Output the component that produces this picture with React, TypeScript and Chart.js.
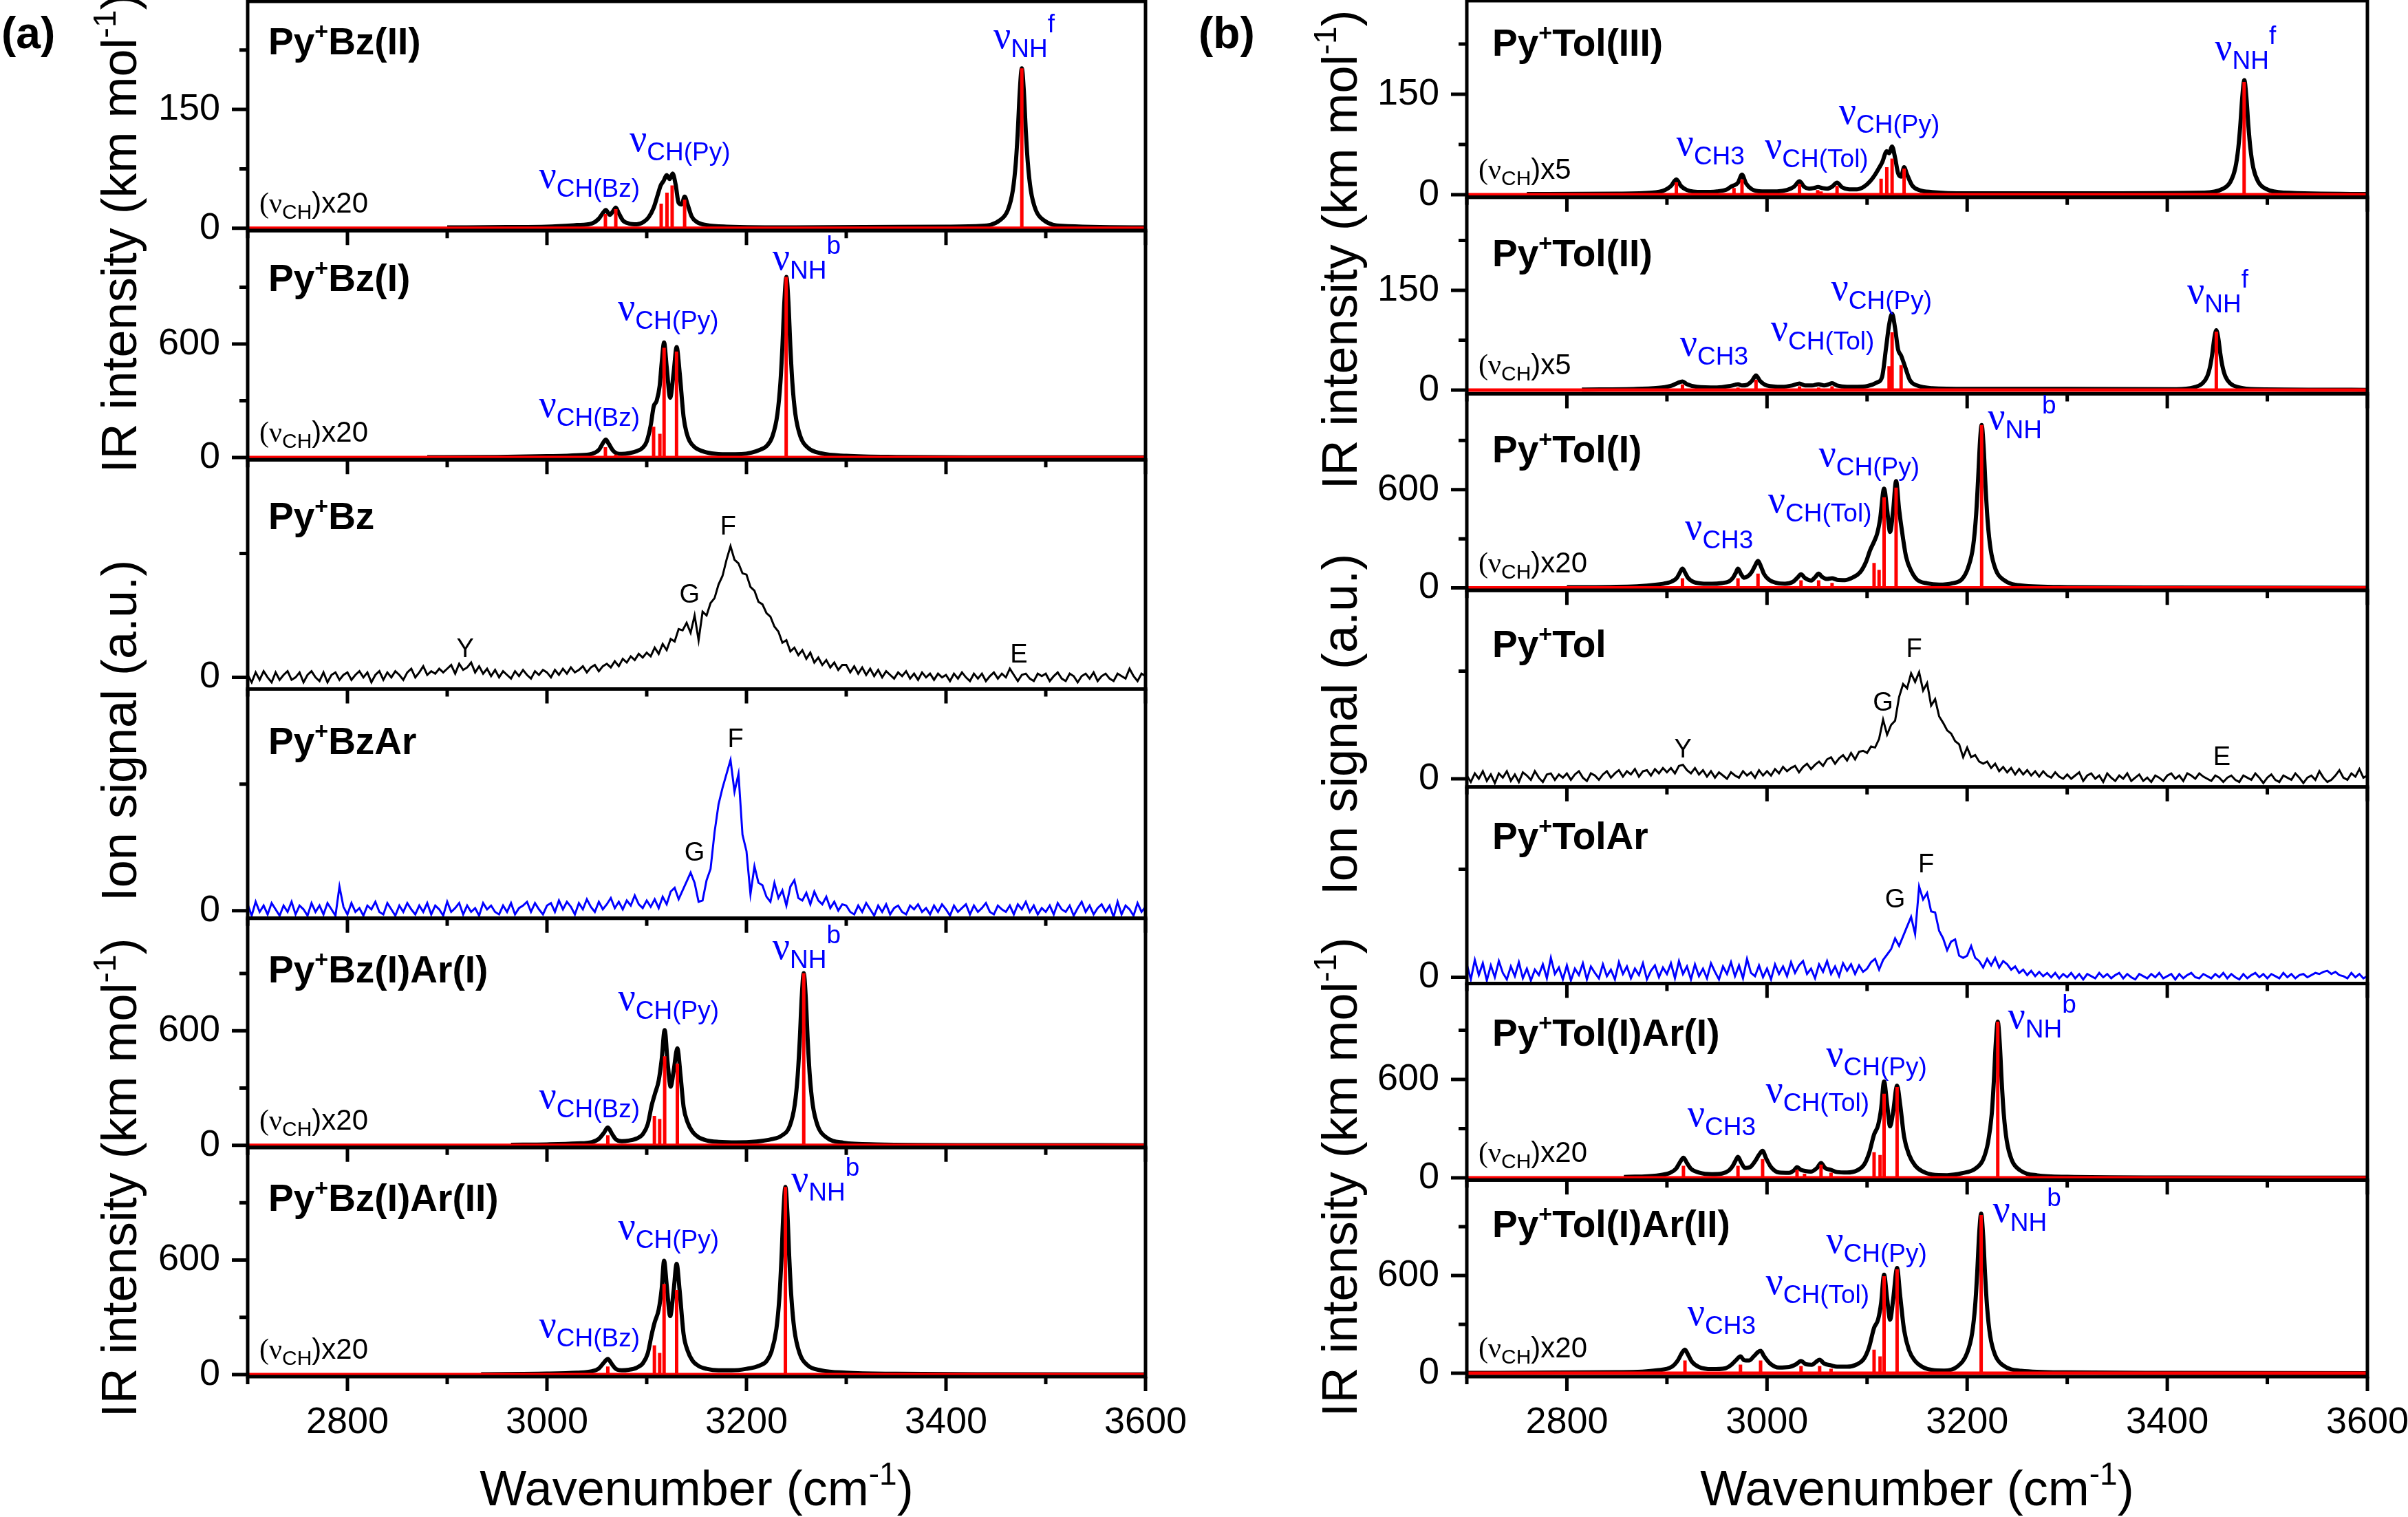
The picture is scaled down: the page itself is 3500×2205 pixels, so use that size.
import React, { useEffect, useRef } from 'react';
import { Chart, registerables } from 'chart.js';

Chart.register(...registerables);

// ---------------- axis values ----------------
const WN_MIN = 2700;
const WN_MAX = 3600;
const X_TICK_LABELS = [2800, 3000, 3200, 3400, 3600];
const X_MINOR_TICKS = [2700, 2900, 3100, 3300, 3500];

const IR_SMALL_MAJOR = [0, 150];
const IR_SMALL_MINOR = [75, 225];
const IR_LARGE_MAJOR = [0, 600];
const IR_LARGE_MINOR = [300, 900];
const ION_MAJOR = [0];
const ION_MINOR = [100];

// ---------------- experimental spectra (every 4 cm-1, 2700..3600) ----------------
const EXP_START = 2700;
const EXP_STEP = 4;

const pyBzIon = [
  2, -4, 4, -2, 5, 0, -4, 4, -2, 2, 5, -2, 0, 4, -4, 2, 5, 0, -3, 4, -4, 2, 4, -2, 2,
  4, -2, 2, 5, 0, 4, -4, 2, 5, -2, 4, 0, 5, 2, -2, 4, 7, 0, 4, 9, 2, 5, 3, 7, 4,
  7, 10, 3, 11, 6, 8, 12, 4, 9, 3, 7, 1, 6, 0, 5, 2, -1, 5, 1, 6, 2, -1, 5, 2, 6,
  4, 0, 6, 2, 7, 3, 8, 4, 6, 9, 4, 8, 10, 5, 9, 11, 8, 13, 9, 15, 12, 17, 14, 19, 16,
  20, 17, 24, 19, 27, 22, 31, 29, 39, 38, 44, 36, 50, 30, 53, 50, 60, 64, 75, 82, 95, 106, 95, 92, 84,
  83, 73, 70, 61, 59, 52, 49, 41, 37, 28, 30, 21, 24, 18, 22, 15, 20, 12, 16, 10, 14, 8, 12, 6, 10,
  10, 4, 9, 3, 8, 2, 7, 1, 6, 0, 5, 2, -1, 4, 1, 5, -1, 3, -2, 4, 0, 3, -2, 3, 0,
  2, -3, 3, -1, 4, 0, -3, 3, -1, 3, -3, 1, 4, -1, 3, 0, 7, 2, -3, 2, 3, -1, -3, 3, 1,
  3, -3, 1, 4, -1, -3, 3, 1, -4, 1, 3, -1, 4, -3, 1, 3, -1, -3, 3, 1, -1, 7, 1, -3, 3,
  1,
];

const pyBzArIon = [
  5, -4, 7, -1, 4, -3, 6, 1, -4, 4, -1, 7, -3, 4, 1, -4, 6, -1, 4, -3, 6, 1, -4, 19, 3,
  -3, 6, -1, 2, -4, 4, 1, 7, -1, -3, 6, 1, -4, 4, -1, 6, 1, -3, 4, -1, 6, -3, 4, 1, -4,
  7, -1, 2, 6, -3, 4, -1, 2, -4, 6, 1, 4, -1, -3, 4, -1, 6, -3, 2, 4, 7, -1, 6, 1, -3,
  4, 6, -1, 8, 1, 7, 3, -3, 6, 1, 9, 3, -1, 7, 1, 5, 10, 2, 7, 1, 8, 4, 12, 5, 2,
  8, 3, 9, 2, 11, 5, 15, 18, 9, 16, 23, 30, 22, 7, 8, 24, 33, 62, 84, 97, 108, 119, 94, 108, 60,
  47, 13, 35, 22, 20, 11, 7, 22, 10, 16, 4, 19, 24, 10, 8, 14, 5, 15, 8, 5, 11, 2, 7, 0, 5,
  4, -1, -3, 4, -1, 6, 1, -4, 4, -1, 5, -3, 2, 4, -1, -3, 4, 1, 5, -1, 2, -3, 4, -1, 5,
  1, -4, 4, -1, 2, 5, -3, 4, -1, 2, 6, -1, -3, 4, 1, -1, 4, -3, 5, 1, 7, -1, 4, -3, 2,
  -1, 4, -3, 6, 1, -1, 4, -4, 2, 7, -1, 4, -3, 2, 5, -1, 4, -5, 7, -3, 4, 1, -4, 6, -1,
  3,
];

const pyTolIon = [
  3, -3, 5, 0, 7, -2, 4, -4, 5, 1, 7, -2, 4, -3, 6, 3, -1, 7, 1, -3, 4, 5, -1, 4, 1,
  5, -1, 4, 7, 1, -2, 5, 3, -1, 4, 7, 1, 5, 8, 2, 7, 4, 9, 2, 7, 8, 3, 9, 5, 10,
  6, 10, 5, 12, 13, 8, 5, 10, 4, 8, 2, 7, 1, 6, 3, 0, 6, 3, 1, 7, 3, 6, 1, 8, 3,
  7, 3, 9, 5, 11, 7, 10, 12, 6, 11, 14, 9, 13, 16, 12, 18, 20, 14, 19, 22, 17, 24, 18, 25, 26,
  24, 30, 29, 37, 55, 41, 50, 54, 76, 88, 84, 98, 90, 99, 82, 89, 68, 74, 58, 52, 45, 42, 35, 32, 20,
  29, 20, 22, 16, 14, 16, 10, 14, 7, 11, 6, 10, 4, 9, 4, 8, 3, 7, 2, 7, 3, 1, 6, 2, 0,
  4, 0, 3, 6, -2, 3, 5, 0, 3, -3, 5, 1, -2, 3, 0, 5, -2, 1, 4, -2, 1, -3, 3, 1, -2,
  3, 5, 0, 3, -2, 5, 3, 0, 5, 2, 0, -2, 3, 1, -3, 1, 3, -1, -3, 3, 1, -1, 5, 1, -4,
  1, 4, -1, -3, 3, 1, -1, 5, 1, -4, 1, 3, -1, 7, 1, -3, -1, 3, 8, 1, -1, 5, 2, 9, 1,
  3,
];

const pyTolArIon = [
  12, -2, 16, 2, 13, -3, 11, 0, 15, 4, -2, 10, 1, 14, -1, 8, -3, 7, 2, 12, -1, 18, 3, 9, -2,
  11, -3, 8, 2, 13, -2, 10, 4, -1, 12, 1, 7, -2, 14, 3, 10, -1, 8, 2, 13, -2, 6, 11, 0, 9,
  3, 13, -1, 15, 3, 10, -2, 12, 1, 8, -1, 13, 5, -2, 10, 3, 14, 1, 11, -1, 17, 4, 1, 11, 0,
  8, -2, 12, 3, 10, 1, 14, 4, 11, 15, 3, 8, -1, 12, 5, 15, 3, 10, 1, 13, 6, 12, 3, 11, 5,
  8, 14, 17, 7, 16, 21, 26, 36, 29, 38, 47, 56, 40, 84, 72, 78, 61, 60, 43, 36, 25, 33, 35, 20, 18,
  20, 29, 18, 15, 9, 17, 11, 18, 9, 15, 12, 7, 10, 4, 7, 2, 6, 1, 5, 1, 4, 0, 4, -1, 3,
  0, 4, -1, 3, -2, 3, 1, -1, 4, 0, 3, -1, 2, 4, -1, 3, 0, -2, 3, 1, -1, 3, 0, 4, -1,
  1, 3, -2, 3, -1, 2, 4, 0, -1, 3, 1, -1, 3, 0, 4, -1, 3, 0, -2, 3, -1, 2, 4, 0, 3,
  -1, 3, 1, -1, 4, 0, 3, -1, 2, 3, 0, 2, 4, 3, 5, 6, 3, 5, 2, 1, -1, 4, 0, 3, -1,
  1,
];

// ---------------- computed IR spectra: sticks + broadened envelopes ----------------
const pyBzII_stickWn = [3058.6, 3069.0, 3114.5, 3120.3, 3125.5, 3138.0, 3476.0];
const pyBzII_stickInt = [18, 24, 31, 45, 54, 36, 202];
const pyBzII_env = [[2900,1],[2960,1.5],[3000,2],[3030,4],[3045,6],[3052,12],[3056,19],[3059,23],[3063,17],[3066,21],[3069,26],[3072,19],[3076,10],[3082,6],[3090,5],[3097,8],[3102,14],[3107,26],[3111,42],[3114,54],[3117,60],[3120,67],[3123,62],[3126,69],[3129,55],[3132,32],[3135,30],[3138,40],[3141,30],[3145,15],[3150,8],[3160,4],[3180,2],[3250,1],[3400,2],[3436,3],[3454,10],[3462,23],[3467,48],[3470,83],[3472,123],[3474,174],[3476,202],[3478,174],[3480,123],[3482,83],[3485,48],[3490,23],[3498,10],[3516,3],[3600,1]];

const pyBzI_stickWn = [3058.6, 3069.0, 3106.9, 3113.2, 3117.4, 3129.9, 3239.8];
const pyBzI_stickInt = [55, 16, 163, 126, 580, 560, 955];
const pyBzI_env = [[2880,2],[2950,3],[3000,7],[3030,12],[3045,20],[3052,40],[3056,75],[3059,95],[3062,72],[3066,38],[3070,22],[3075,19],[3083,24],[3090,34],[3096,52],[3100,85],[3104,170],[3107,270],[3110,300],[3113,380],[3115,500],[3117.4,608],[3120,480],[3123.5,316],[3127,450],[3130,584],[3133,450],[3137,213],[3140,130],[3143,87],[3148,55],[3155,35],[3165,22],[3180,17],[3195,18],[3205,26],[3214,42],[3220,60],[3226,112],[3231,230],[3234,395],[3236,585],[3238,826],[3240,955],[3242,826],[3244,585],[3246,395],[3249,230],[3254,112],[3262,50],[3275,22],[3300,9],[3350,3],[3450,1.2],[3600,0.6]];

const pyBzIArI_stickWn = [3061, 3068, 3107.7, 3113, 3118, 3130.7, 3257.4];
const pyBzIArI_stickInt = [52, 8, 154, 138, 467, 428, 902];
const pyBzIArI_env = [[2964,3],[3000,5],[3030,10],[3045,17],[3052,34],[3057,65],[3061,94],[3065,62],[3069,32],[3075,22],[3082,25],[3090,36],[3096,58],[3101,110],[3105,210],[3108,266],[3112,339],[3115,450],[3118,604],[3121,430],[3124,307],[3127,390],[3130.7,508],[3134,360],[3137,200],[3141,120],[3146,70],[3152,42],[3160,26],[3172,18],[3190,15],[3210,20],[3225,32],[3235,50],[3243.4,102],[3248.4,213],[3251.4,370],[3253.4,550],[3255.4,778],[3257.4,902],[3259.4,778],[3261.4,550],[3263.4,370],[3266.4,213],[3271.4,102],[3279.4,44],[3297,14],[3330,5],[3450,1.2],[3600,0.5]];

const pyBzIArII_stickWn = [3061, 3107.7, 3113, 3117.4, 3130, 3239];
const pyBzIArII_stickInt = [42, 153, 113, 475, 443, 983];
const pyBzIArII_env = [[2934,2],[3000,5],[3030,10],[3045,17],[3052,32],[3057,62],[3061,82],[3065,55],[3069,30],[3075,22],[3082,25],[3090,36],[3096,58],[3101,110],[3105,210],[3108,274],[3112,340],[3115,450],[3117.4,596],[3120,470],[3123.5,306],[3127,440],[3130,580],[3133,440],[3137,210],[3141,125],[3146,72],[3152,45],[3160,30],[3172,22],[3185,22],[3200,30],[3213,47],[3220,70],[3225,119],[3230,240],[3233,405],[3235,600],[3237,848],[3239,983],[3241,848],[3243,600],[3245,405],[3248,235],[3253,115],[3261,50],[3275,22],[3300,10],[3350,4],[3450,1.2],[3600,0.6]];

const pyTolIII_stickWn = [2909.4, 2967, 2975, 3032.5, 3050.6, 3054, 3070, 3114, 3119.7, 3125, 3137, 3476.8];
const pyTolIII_stickInt = [18.5, 10, 23, 16, 7, 5, 13, 24, 41, 54, 39, 168.5];
const pyTolIII_env = [[2760,1],[2850,1.5],[2885,3],[2898,7],[2904,13],[2909.4,23],[2914,13],[2920,7],[2935,4],[2950,5],[2960,8],[2964,12],[2967,14],[2971,18],[2975,30],[2979,17],[2985,8],[2995,5],[3010,5],[3020,7],[3027,12],[3032.5,20],[3037,12],[3042,9],[3047,10],[3051,11.5],[3055,10],[3060,9],[3065,12],[3070,18],[3075,11],[3082,8],[3090,8],[3097,12],[3103,20],[3108,30],[3112,40],[3115,48],[3119.7,65],[3122,62],[3125,72],[3128,55],[3131,32],[3134,27],[3137,41],[3140,30],[3145,14],[3152,7],[3165,4],[3200,2],[3300,2],[3437,3],[3455,8.5],[3463,19],[3468,40],[3471,70],[3473,104],[3475,147],[3477,171],[3479,147],[3481,104],[3483,70],[3486,40],[3491,19],[3499,8.5],[3517,3],[3600,1]];

const pyTolII_stickWn = [2915.5, 2971, 2989, 3032.5, 3051.6, 3065, 3122, 3125, 3134, 3449];
const pyTolII_stickInt = [8.7, 4, 15.7, 5.8, 4, 5.8, 36, 87, 37.7, 88];
const pyTolII_env = [[2815,1],[2870,2],[2895,4],[2905,7],[2911,11],[2915.5,13],[2920,9],[2930,5],[2950,4],[2962,6],[2968,8],[2971,9],[2975,7],[2980,8],[2985,14],[2989,22],[2993,14],[3000,7],[3015,5],[3025,7],[3032.5,10],[3038,7],[3045,7],[3051.6,9],[3057,7],[3062,9],[3065,10.5],[3070,7],[3080,5],[3090,5],[3100,6],[3110,11.6],[3115,20],[3119,64],[3122,98],[3125,115],[3128,93],[3131,61],[3134,52],[3138,35],[3143,14.5],[3150,7],[3165,3],[3200,2],[3300,2],[3409,1.4],[3427,4.4],[3435,10],[3440,21],[3443,37],[3445,55],[3447,78],[3449,90],[3451,78],[3453,55],[3455,37],[3458,21],[3463,10],[3471,4.4],[3489,1.4],[3600,0.5]];

const pyTolI_stickWn = [2915.5, 2971, 2991, 3034, 3051.6, 3065, 3107, 3112, 3117, 3129, 3214.5];
const pyTolI_stickInt = [59, 59, 87, 47, 47, 31, 153, 111, 554, 613, 995];
const pyTolI_env = [[2800,4],[2870,10],[2890,20],[2900,30],[2905,40],[2910,62],[2913,95],[2915.5,118],[2918,95],[2921,62],[2926,38],[2935,27],[2945,25],[2955,30],[2962,40],[2966,62],[2969,95],[2971,118],[2974,85],[2977,62],[2981,72],[2985,100],[2988,135],[2991,165],[2994,130],[2997,85],[3002,50],[3010,30],[3018,26],[3026,38],[3030,60],[3034,83],[3038,60],[3044,45],[3048,65],[3051.6,87],[3055,68],[3060,55],[3065,59],[3070,50],[3078,48],[3086,65],[3093,95],[3099,160],[3103,230],[3107,283],[3110,330],[3113,420],[3117,606],[3120,480],[3123,342],[3126,470],[3129,653],[3132,480],[3135,342],[3139,190],[3144,105],[3150,50],[3160,28],[3172,20],[3185,28],[3195,55],[3201,125],[3206,255],[3209,450],[3211,670],[3213,910],[3214.5,995],[3216.5,858],[3218.5,607],[3220.5,408],[3223.5,235],[3228.5,112],[3236.5,49],[3254,15],[3300,5],[3400,2],[3600,0.6]];

const pyTolIArI_stickWn = [2916.5, 2971, 2995.6, 3030, 3037.5, 3054, 3064, 3107, 3113, 3117, 3130, 3230.6];
const pyTolIArI_stickInt = [73, 73, 114, 48, 25, 81, 31, 156, 139, 513, 554, 952];
const pyTolIArI_env = [[2857,5],[2890,14],[2903,30],[2909,55],[2913,95],[2916.5,123],[2920,90],[2924,55],[2932,32],[2945,22],[2955,26],[2962,45],[2966,75],[2969,110],[2971,128],[2974,95],[2978,60],[2983,65],[2988,100],[2992,140],[2995.6,164],[2999,120],[3004,65],[3012,32],[3022,30],[3027,45],[3030,65],[3034,48],[3038,42],[3044,38],[3050,60],[3054,90],[3058,60],[3064,48],[3070,35],[3080,32],[3090,45],[3097,80],[3102,150],[3107,264],[3111,320],[3114,420],[3117,587],[3120,450],[3123,313],[3126,400],[3130,562],[3133,450],[3137,250],[3142,140],[3148,75],[3155,40],[3165,20],[3180,16],[3195,28],[3208,55],[3216,112],[3221,220],[3224.6,390],[3226.6,580],[3228.6,820],[3230.6,952],[3232.6,820],[3234.6,580],[3236.6,390],[3239.6,225],[3244.6,108],[3252.6,47],[3270,15],[3300,6],[3400,2],[3600,0.6]];

const pyTolIArII_stickWn = [2918, 2973.5, 2993.6, 3034, 3052.6, 3064, 3107, 3113, 3117, 3130, 3214];
const pyTolIArII_stickInt = [78, 53, 78, 45, 45, 28, 145, 104, 596, 638, 972];
const pyTolIArII_env = [[2700,2],[2850,6],[2890,18],[2905,40],[2911,80],[2915,125],[2918,145],[2921,115],[2925,70],[2932,38],[2945,25],[2958,30],[2964,50],[2969,80],[2973.5,104],[2977,80],[2982,78],[2987,105],[2991,130],[2993.6,137],[2997,105],[3003,60],[3012,35],[3022,38],[3029,55],[3034,75],[3039,55],[3045,52],[3049,70],[3052.6,82],[3057,60],[3064,48],[3070,40],[3080,40],[3090,55],[3097,90],[3102,160],[3107,279],[3111,330],[3114,430],[3117,605],[3120,460],[3123,329],[3126,450],[3130,646],[3133,480],[3137,265],[3142,140],[3148,75],[3155,40],[3165,20],[3177,16],[3190,40],[3200,125],[3205,246],[3208,415],[3210,610],[3212,855],[3214,980],[3216,845],[3218,598],[3220,402],[3223,231],[3228,111],[3236,48],[3254,15],[3300,5],[3400,2],[3600,0.6]];

// ---------------- styling / layout ----------------
const FONT_SANS = '"Liberation Sans", Arial, Helvetica, sans-serif';
const FONT_SERIF = '"Liberation Serif", "Times New Roman", serif';
const NU = '\u03BD';
const BLUE = '#0000ff';
const RED = '#ff0000';

const LEFT_PANELS = [
  { kind: 'ir', name: 'Bz(II)', min: -3, max: 286.5, major: IR_SMALL_MAJOR, minor: IR_SMALL_MINOR, wn: pyBzII_stickWn, inten: pyBzII_stickInt, env: pyBzII_env, note: 'x20', labelDy: 77,
    ann: [{ x: 2992, y: 51, sub: 'CH(Bz)' }, { x: 3082.7, y: 97, sub: 'CH(Py)' }, { x: 3447.5, y: 227, sub: 'NH', sup: 'f' }] },
  { kind: 'ir', name: 'Bz(I)', min: -12, max: 1199.5, major: IR_LARGE_MAJOR, minor: IR_LARGE_MINOR, wn: pyBzI_stickWn, inten: pyBzI_stickInt, env: pyBzI_env, note: 'x20', labelDy: 88,
    ann: [{ x: 2992, y: 213, sub: 'CH(Bz)' }, { x: 3071, y: 726, sub: 'CH(Py)' }, { x: 3226, y: 994, sub: 'NH', sup: 'b' }] },
  { kind: 'exp', name: 'Bz', min: -9.4, max: 175.7, major: ION_MAJOR, minor: ION_MINOR, trace: pyBzIon, color: '#000000', labelDy: 101,
    letters: [{ t: 'Y', x: 2918, y: 24 }, { t: 'G', x: 3143, y: 68 }, { t: 'F', x: 3181.6, y: 123 }, { t: 'E', x: 3473, y: 20 }] },
  { kind: 'exp', name: 'BzAr', min: -6, max: 175.1, major: ION_MAJOR, minor: ION_MINOR, trace: pyBzArIon, color: BLUE, labelDy: 94,
    letters: [{ t: 'G', x: 3148, y: 47 }, { t: 'F', x: 3189, y: 137 }] },
  { kind: 'ir', name: 'Bz(I)Ar(I)', min: -11, max: 1189.6, major: IR_LARGE_MAJOR, minor: IR_LARGE_MINOR, wn: pyBzIArI_stickWn, inten: pyBzIArI_stickInt, env: pyBzIArI_env, note: 'x20', labelDy: 93,
    ann: [{ x: 2992, y: 194, sub: 'CH(Bz)' }, { x: 3071.4, y: 709, sub: 'CH(Py)' }, { x: 3226, y: 974, sub: 'NH', sup: 'b' }] },
  { kind: 'ir', name: 'Bz(I)Ar(II)', min: -11, max: 1189.6, major: IR_LARGE_MAJOR, minor: IR_LARGE_MINOR, wn: pyBzIArII_stickWn, inten: pyBzIArII_stickInt, env: pyBzIArII_env, note: 'x20', labelDy: 92,
    ann: [{ x: 2992, y: 196, sub: 'CH(Bz)' }, { x: 3071.4, y: 711, sub: 'CH(Py)' }, { x: 3244.8, y: 960, sub: 'NH', sup: 'b' }] },
];

const RIGHT_PANELS = [
  { kind: 'ir', name: 'Tol(III)', min: -3.8, max: 289.8, major: IR_SMALL_MAJOR, minor: IR_SMALL_MINOR, wn: pyTolIII_stickWn, inten: pyTolIII_stickInt, env: pyTolIII_env, note: 'x5', labelDy: 80,
    ann: [{ x: 2909.4, y: 59, sub: 'CH3' }, { x: 2997.7, y: 54, sub: 'CH(Tol)' }, { x: 3071.8, y: 106, sub: 'CH(Py)' }, { x: 3447.5, y: 201, sub: 'NH', sup: 'f' }] },
  { kind: 'ir', name: 'Tol(II)', min: -5.5, max: 289.9, major: IR_SMALL_MAJOR, minor: IR_SMALL_MINOR, wn: pyTolII_stickWn, inten: pyTolII_stickInt, env: pyTolII_env, note: 'x5', labelDy: 100,
    ann: [{ x: 2913, y: 52, sub: 'CH3' }, { x: 3003.7, y: 75, sub: 'CH(Tol)' }, { x: 3064, y: 136, sub: 'CH(Py)' }, { x: 3419.8, y: 130, sub: 'NH', sup: 'f' }] },
  { kind: 'ir', name: 'Tol(I)', min: -15, max: 1185.4, major: IR_LARGE_MAJOR, minor: IR_LARGE_MINOR, wn: pyTolI_stickWn, inten: pyTolI_stickInt, env: pyTolI_env, note: 'x20', labelDy: 100,
    ann: [{ x: 2918, y: 295, sub: 'CH3' }, { x: 3001, y: 460, sub: 'CH(Tol)' }, { x: 3051.6, y: 743, sub: 'CH(Py)' }, { x: 3220.6, y: 967, sub: 'NH', sup: 'b' }] },
  { kind: 'exp', name: 'Tol', min: -7.6, max: 175, major: ION_MAJOR, minor: ION_MINOR, trace: pyTolIon, color: '#000000', labelDy: 97,
    letters: [{ t: 'Y', x: 2916, y: 29 }, { t: 'G', x: 3116, y: 72 }, { t: 'F', x: 3147, y: 122 }, { t: 'E', x: 3454.5, y: 22 }] },
  { kind: 'exp', name: 'TolAr', min: -5.8, max: 176.2, major: ION_MAJOR, minor: ION_MINOR, trace: pyTolArIon, color: BLUE, labelDy: 90,
    letters: [{ t: 'G', x: 3128, y: 73.5 }, { t: 'F', x: 3159, y: 106 }] },
  { kind: 'ir', name: 'Tol(I)Ar(I)', min: -14, max: 1185, major: IR_LARGE_MAJOR, minor: IR_LARGE_MINOR, wn: pyTolIArI_stickWn, inten: pyTolIArI_stickInt, env: pyTolIArI_env, note: 'x20', labelDy: 90,
    ann: [{ x: 2920.5, y: 314, sub: 'CH3' }, { x: 2998.7, y: 463, sub: 'CH(Tol)' }, { x: 3059, y: 679, sub: 'CH(Py)' }, { x: 3240.7, y: 911, sub: 'NH', sup: 'b' }] },
  { kind: 'ir', name: 'Tol(I)Ar(II)', min: -21, max: 1186, major: IR_LARGE_MAJOR, minor: IR_LARGE_MINOR, wn: pyTolIArII_stickWn, inten: pyTolIArII_stickInt, env: pyTolIArII_env, note: 'x20', labelDy: 83,
    ann: [{ x: 2920.5, y: 296, sub: 'CH3' }, { x: 2998.7, y: 488, sub: 'CH(Tol)' }, { x: 3059, y: 738, sub: 'CH(Py)' }, { x: 3225.6, y: 930, sub: 'NH', sup: 'b' }] },
];

const COLUMNS = [
  { key: 'a', left: 0, width: 1740, axisWidth: 360, padRight: 75, padTop: 2, labelDx: 30, tag: '(a)', tagX: 2,
    titleX: 198, titles: [{ kind: 'ir', cy: 339 }, { kind: 'ion', cy: 1062 }, { kind: 'ir', cy: 1712 }], panels: LEFT_PANELS },
  { key: 'b', left: 1740, width: 1760, axisWidth: 392, padRight: 59, padTop: 1, labelDx: 37, tag: '(b)', tagX: 2,
    titleX: 232, titles: [{ kind: 'ir', cy: 363 }, { kind: 'ion', cy: 1053 }, { kind: 'ir', cy: 1711 }], panels: RIGHT_PANELS },
];

// ---------------- helpers ----------------
type Seg = { t: string; size: number; serif?: boolean; bold?: boolean; dy?: number; color?: string };

function segFont(s: Seg) {
  return `${s.bold ? 'bold ' : ''}${s.size}px ${s.serif ? FONT_SERIF : FONT_SANS}`;
}
function richWidth(ctx: CanvasRenderingContext2D, segs: Seg[]) {
  let w = 0;
  for (const s of segs) { ctx.font = segFont(s); w += ctx.measureText(s.t).width; }
  return w;
}
function drawRich(ctx: CanvasRenderingContext2D, segs: Seg[], x: number, y: number, align = 'left') {
  ctx.textAlign = 'left';
  ctx.textBaseline = 'alphabetic';
  let cx = align === 'center' ? x - richWidth(ctx, segs) / 2 : x;
  for (const s of segs) {
    ctx.font = segFont(s);
    ctx.fillStyle = s.color || '#000';
    ctx.fillText(s.t, cx, y + (s.dy || 0));
    cx += ctx.measureText(s.t).width;
  }
}

function stickPath(wn: number[], inten: number[]) {
  const order = wn.map((_, i) => i).sort((a, b) => wn[a] - wn[b]);
  const pts = [{ x: WN_MIN, y: 0 }];
  for (const i of order) {
    pts.push({ x: wn[i], y: 0 }, { x: wn[i], y: inten[i] }, { x: wn[i], y: 0 });
  }
  pts.push({ x: WN_MAX, y: 0 });
  return pts;
}

function zeroPadding(s: any) {
  s.paddingTop = 0;
  s.paddingBottom = 0;
  s.paddingLeft = 0;
  s.paddingRight = 0;
}

function makeFigurePlugin(col: any) {
  return {
    id: 'figure-' + col.key,
    afterDraw(chart: any) {
      const ctx: CanvasRenderingContext2D = chart.ctx;
      const xs = chart.scales.x;
      const area = chart.chartArea;
      ctx.save();
      col.panels.forEach((p: any, i: number) => {
        const ys = chart.scales['y' + i];
        const top = ys.top;
        const bottom = ys.bottom;
        ctx.strokeStyle = '#000';
        ctx.lineWidth = 5;
        ctx.lineCap = 'butt';
        ctx.beginPath();
        for (const v of X_TICK_LABELS) { const px = xs.getPixelForValue(v); ctx.moveTo(px, bottom); ctx.lineTo(px, bottom + 21); }
        for (const v of X_MINOR_TICKS) { const px = xs.getPixelForValue(v); ctx.moveTo(px, bottom); ctx.lineTo(px, bottom + 11); }
        for (const v of p.major) { const py = ys.getPixelForValue(v); ctx.moveTo(area.left, py); ctx.lineTo(area.left - 23, py); }
        for (const v of p.minor) { const py = ys.getPixelForValue(v); ctx.moveTo(area.left, py); ctx.lineTo(area.left - 12, py); }
        ctx.stroke();
        ctx.lineWidth = 5;
        ctx.strokeRect(area.left, top, area.right - area.left, bottom - top);
        drawRich(ctx, [
          { t: 'Py', size: 55, bold: true },
          { t: '+', size: 34, bold: true, dy: -22 },
          { t: p.name, size: 55, bold: true },
        ], area.left + col.labelDx, top + p.labelDy);
        if (p.note) {
          const zero = ys.getPixelForValue(0);
          drawRich(ctx, [
            { t: '(', size: 42, serif: true },
            { t: NU, size: 42, serif: true },
            { t: 'CH', size: 30, dy: 9 },
            { t: ')' + p.note, size: 42 },
          ], area.left + 17, zero - 23);
        }
        for (const a of (p.ann || [])) {
          const segs: Seg[] = [
            { t: NU, size: 56, serif: true, color: BLUE },
            { t: a.sub, size: 37, dy: 13, color: BLUE },
          ];
          if (a.sup) segs.push({ t: a.sup, size: 37, dy: -23, color: BLUE });
          drawRich(ctx, segs, xs.getPixelForValue(a.x), ys.getPixelForValue(a.y));
        }
        for (const l of (p.letters || [])) {
          drawRich(ctx, [{ t: l.t, size: 38 }], xs.getPixelForValue(l.x), ys.getPixelForValue(l.y) + 14, 'center');
        }
      });
      for (const tt of col.titles) {
        ctx.save();
        ctx.translate(col.titleX, tt.cy);
        ctx.rotate(-Math.PI / 2);
        const segs: Seg[] = tt.kind === 'ir'
          ? [{ t: 'IR intensity (km mol', size: 72 }, { t: '-1', size: 46, dy: -30 }, { t: ')', size: 72 }]
          : [{ t: 'Ion signal (a.u.)', size: 72 }];
        drawRich(ctx, segs, 0, 0, 'center');
        ctx.restore();
      }
      drawRich(ctx, [{ t: 'Wavenumber (cm', size: 72 }, { t: '-1', size: 46, dy: -30 }, { t: ')', size: 72 }],
        (area.left + area.right) / 2, 2188, 'center');
      drawRich(ctx, [{ t: col.tag, size: 64, bold: true }], col.tagX, 70);
      ctx.restore();
    },
  };
}

function ColumnChart({ col }: { col: any }) {
  const ref = useRef<HTMLCanvasElement>(null);
  useEffect(() => {
    const canvas = ref.current;
    if (!canvas) return;
    const scales: any = {
      x: {
        type: 'linear', position: 'bottom', min: WN_MIN, max: WN_MAX,
        afterBuildTicks: (s: any) => { s.ticks = X_TICK_LABELS.map((v) => ({ value: v })); },
        afterFit: (s: any) => { s.height = 204; zeroPadding(s); },
        grid: { display: false, drawTicks: false },
        border: { display: false },
        ticks: { font: { family: FONT_SANS, size: 54 }, color: '#000', padding: 35, maxRotation: 0, autoSkip: false, callback: (v: any) => String(v) },
      },
    };
    const n = col.panels.length;
    const datasets: any[] = [];
    col.panels.forEach((p: any, i: number) => {
      const id = 'y' + i;
      scales[id] = {
        type: 'linear', position: 'left', stack: 'col', stackWeight: 1, weight: n - i,
        min: p.min, max: p.max,
        afterBuildTicks: (s: any) => { s.ticks = p.major.map((v: number) => ({ value: v })); },
        afterFit: (s: any) => { s.width = col.axisWidth; zeroPadding(s); },
        grid: { display: false, drawTicks: false },
        border: { display: false },
        ticks: { font: { family: FONT_SANS, size: 54 }, color: '#000', padding: 40, callback: (v: any) => String(v) },
      };
      if (p.kind === 'ir') {
        datasets.push({
          data: stickPath(p.wn, p.inten), yAxisID: id, borderColor: RED, borderWidth: 5,
          pointRadius: 0, tension: 0, order: 0, borderJoinStyle: 'miter', borderCapStyle: 'butt', fill: false,
        });
        datasets.push({
          data: p.env.map((q: number[]) => ({ x: q[0], y: q[1] })), yAxisID: id, borderColor: '#000', borderWidth: 6,
          pointRadius: 0, cubicInterpolationMode: 'monotone', order: 1, fill: false,
        });
      } else {
        datasets.push({
          data: p.trace.map((v: number, k: number) => ({ x: EXP_START + k * EXP_STEP, y: v })), yAxisID: id,
          borderColor: p.color, borderWidth: 3, pointRadius: 0, tension: 0, order: 1, fill: false,
        });
      }
    });
    const chart = new Chart(canvas, {
      type: 'line',
      data: { datasets },
      options: {
        animation: false,
        responsive: false,
        devicePixelRatio: 1,
        events: [],
        layout: { autoPadding: false, padding: { left: 0, right: col.padRight, top: col.padTop, bottom: 0 } },
        plugins: { legend: { display: false }, tooltip: { enabled: false }, title: { display: false } },
        scales,
      } as any,
      plugins: [makeFigurePlugin(col)],
    } as any);
    return () => chart.destroy();
  }, [col]);
  return (
    <canvas ref={ref} width={col.width} height={2205}
      style={{ position: 'absolute', left: col.left, top: 0, width: col.width, height: 2205 }} />
  );
}

export default function App() {
  return (
    <div style={{ position: 'absolute', left: 0, top: 0, width: 3500, height: 2205, background: '#ffffff', overflow: 'hidden' }}>
      {COLUMNS.map((c) => <ColumnChart key={c.key} col={c} />)}
    </div>
  );
}
